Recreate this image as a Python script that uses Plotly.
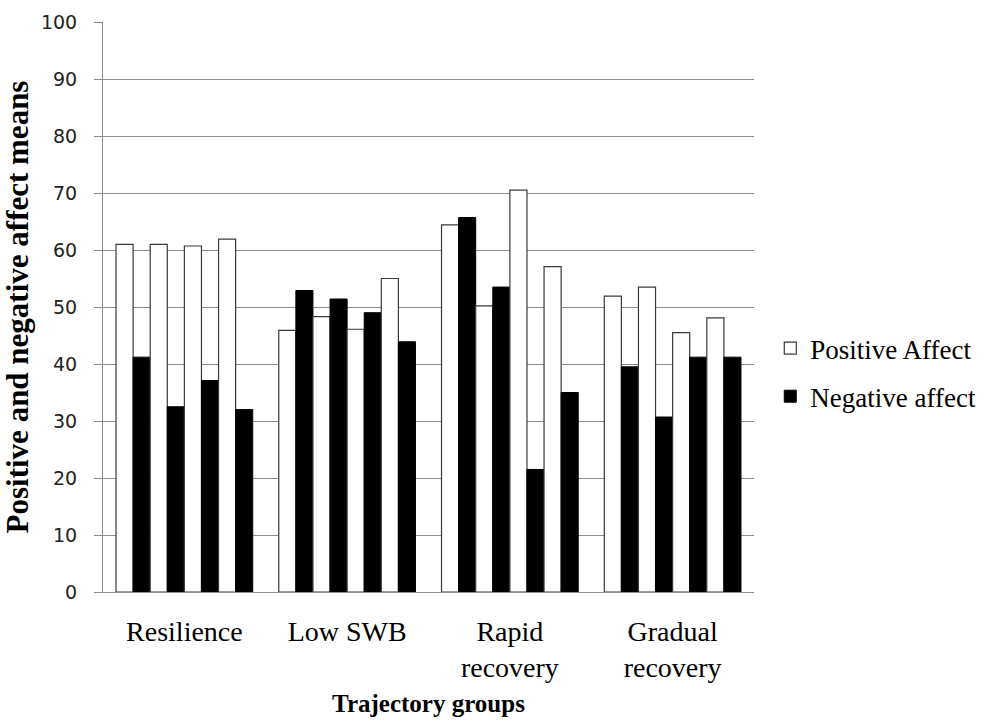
import plotly.graph_objects as go

# Trajectory groups on the category axis
groups = ["Resilience", "Low SWB", "Rapid<br>recovery", "Gradual<br>recovery"]

# Mean affect per group at four successive measurement points
pa_t1 = [61.0, 45.9, 64.4, 51.9]
na_t1 = [41.2, 52.9, 65.7, 39.5]
pa_t2 = [61.0, 48.3, 50.2, 53.5]
na_t2 = [32.5, 51.4, 53.5, 30.7]
pa_t3 = [60.7, 46.1, 70.5, 45.5]
na_t3 = [37.1, 49.0, 21.5, 41.2]
pa_t4 = [61.9, 55.0, 57.1, 48.1]
na_t4 = [32.0, 43.9, 35.0, 41.2]

y_ticks = list(range(0, 101, 10))

positive = [pa_t1, pa_t2, pa_t3, pa_t4]
negative = [na_t1, na_t2, na_t3, na_t4]

fig = go.Figure()
for i, (pa, na) in enumerate(zip(positive, negative)):
    fig.add_trace(go.Bar(
        x=groups, y=pa, name="Positive Affect", legendgroup="pa",
        showlegend=(i == 0),
        marker=dict(color="white", line=dict(color="#3a3a3a", width=1.2)),
    ))
    fig.add_trace(go.Bar(
        x=groups, y=na, name="Negative affect", legendgroup="na",
        showlegend=(i == 0),
        marker=dict(color="black", line=dict(color="black", width=1)),
    ))

grid = "#8c8c8c"
serif = "Liberation Serif"

fig.update_layout(
    width=993, height=723,
    margin=dict(l=103, r=236, t=22, b=131),
    paper_bgcolor="white", plot_bgcolor="white",
    font=dict(family=serif, color="black"),
    barmode="group", bargap=0.16, bargroupgap=0,
    showlegend=True,
    legend=dict(
        x=1.025, y=0.385, xanchor="left", yanchor="middle",
        font=dict(family=serif, size=27, color="black"),
        tracegroupgap=10, bgcolor="rgba(0,0,0,0)",
    ),
    xaxis=dict(
        automargin=False,
        showline=True, linecolor=grid, linewidth=1,
        ticks="", showgrid=False,
        tickfont=dict(family=serif, size=28, color="black"),
        ticklabelstandoff=14,
        title=dict(text="<b>Trajectory groups</b>", standoff=12,
                   font=dict(family=serif, size=25, color="black")),
    ),
    yaxis=dict(
        automargin=False,
        range=[0, 100], tickvals=y_ticks,
        showline=True, linecolor=grid, linewidth=1,
        ticks="outside", ticklen=8, tickcolor=grid,
        showgrid=True, gridcolor=grid, gridwidth=1, zeroline=False,
        tickfont=dict(family="DejaVu Sans", size=19, color="#222222"),
        ticklabelstandoff=13,
        title=dict(text="<b>Positive and negative affect means</b>", standoff=8,
                   font=dict(family=serif, size=31, color="black")),
    ),
)

fig.write_html("out.html")
